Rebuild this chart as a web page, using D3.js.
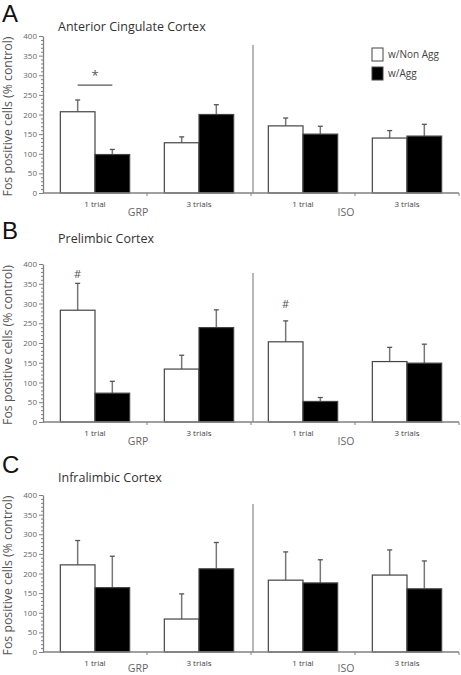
<!DOCTYPE html>
<html><head><meta charset="utf-8">
<script src="https://cdn.jsdelivr.net/npm/d3@7"></script>
<style>body{margin:0;background:#fff}svg{display:block;font-family:"Open Sans",sans-serif}</style>
</head><body><div id="chart"></div>
<script>
const conditions = ["GRP", "ISO"];
const trials = ["1 trial", "3 trials"];
const groups = ["GRP 1 trial", "GRP 3 trials", "ISO 1 trial", "ISO 3 trials"];
const series = ["w/Non Agg", "w/Agg"];
const yTicks = [0, 50, 100, 150, 200, 250, 300, 350, 400];
const panelLetters = ["A", "B", "C"];
const panelTitles = ["Anterior Cingulate Cortex", "Prelimbic Cortex", "Infralimbic Cortex"];

const acNonAgg = [207, 128, 171, 140];
const acNonAggErr = [30, 15, 20, 19];
const acAgg = [98, 200, 150, 145];
const acAggErr = [13, 25, 20, 30];

const plNonAgg = [283, 134, 203, 153];
const plNonAggErr = [68, 35, 53, 36];
const plAgg = [73, 239, 52, 149];
const plAggErr = [30, 45, 10, 48];

const ilNonAgg = [222, 84, 183, 196];
const ilNonAggErr = [62, 64, 72, 64];
const ilAgg = [164, 212, 176, 161];
const ilAggErr = [80, 67, 59, 71];

const W = 461, H = 675;
const svg = d3.select("#chart").append("svg").attr("width", W).attr("height", H);

const panels = [
  {vals: [acNonAgg, acAgg], errs: [acNonAggErr, acAggErr], y0: 193, y1: 36},
  {vals: [plNonAgg, plAgg], errs: [plNonAggErr, plAggErr], y0: 422, y1: 264},
  {vals: [ilNonAgg, ilAgg], errs: [ilNonAggErr, ilAggErr], y0: 652, y1: 495}
];
const letterY = [22, 239, 473];
const titleY = [31, 243, 482];
const condLabelOffset = [23, 23, 20];

const x = d3.scaleBand().domain(groups).range([43, 459]).paddingInner(1/3).paddingOuter(1/6);
const xs = d3.scaleBand().domain(series).range([0, x.bandwidth()]);
const fills = ["#fff", "#000"];
const axisColor = "#808080";

panels.forEach((p, pi) => {
  const g = svg.append("g");
  const y = d3.scaleLinear().domain([0, 400]).range([p.y0, p.y1]);

  g.append("text").attr("x", 2).attr("y", letterY[pi]).attr("font-size", 24)
    .attr("font-family", "Liberation Sans, Arial, sans-serif")
    .attr("fill", "#111").text(panelLetters[pi]);
  g.append("text").attr("x", 58).attr("y", titleY[pi]).attr("font-size", 12.5)
    .attr("fill", "#333").text(panelTitles[pi]);

  // minor ticks
  const minor = d3.range(0, 401, 10).filter(v => v % 50 !== 0);
  g.append("g").attr("transform", `translate(43,0)`)
    .call(d3.axisLeft(y).tickValues(minor).tickSize(2).tickFormat(""))
    .call(a => a.select(".domain").remove())
    .call(a => a.selectAll("line").attr("stroke", axisColor));
  const ya = g.append("g").attr("transform", `translate(43,0)`)
    .call(d3.axisLeft(y).tickValues(yTicks).tickSize(4).tickPadding(2).tickSizeOuter(0));
  ya.select(".domain").attr("stroke", axisColor).attr("stroke-width", 1.3);
  ya.selectAll("line").attr("stroke", axisColor);
  ya.selectAll("text").attr("font-size", 8).attr("fill", "#666").attr("font-family", "Open Sans");

  // y label
  g.append("text").attr("transform", `translate(12,${(p.y0 + p.y1) / 2 + 2}) rotate(-90)`)
    .attr("text-anchor", "middle").attr("font-size", 12.3).attr("fill", "#555")
    .text("Fos positive cells (% control)");

  // bars
  groups.forEach((gr, gi) => {
    series.forEach((s, si) => {
      const v = p.vals[si][gi], e = p.errs[si][gi];
      const bx = x(gr) + xs(s);
      const cx = bx + xs.bandwidth() / 2;
      g.append("line").attr("x1", cx).attr("x2", cx).attr("y1", y(v)).attr("y2", y(v + e))
        .attr("stroke", "#777").attr("stroke-width", 1.5);
      g.append("line").attr("x1", cx - 2.5).attr("x2", cx + 2.5).attr("y1", y(v + e)).attr("y2", y(v + e))
        .attr("stroke", "#555").attr("stroke-width", 1.3);
      g.append("rect").attr("x", bx).attr("y", y(v)).attr("width", xs.bandwidth())
        .attr("height", y(0) - y(v)).attr("fill", fills[si]).attr("stroke", "#444").attr("stroke-width", 1.2);
    });
  });

  // x axis
  const xStart = x.range()[0];
  g.append("line").attr("x1", xStart).attr("x2", x.range()[1]).attr("y1", p.y0).attr("y2", p.y0)
    .attr("stroke", axisColor).attr("stroke-width", 1.3);
  const bounds = groups.map((gr, i) => x(gr) - x.step() * x.paddingOuter() + x.step());
  bounds.forEach(b => g.append("line").attr("x1", b).attr("x2", b).attr("y1", p.y0).attr("y2", p.y0 + 3)
    .attr("stroke", axisColor));
  groups.forEach((gr, gi) => {
    g.append("text").attr("x", x(gr) + x.bandwidth() / 2).attr("y", p.y0 + 14)
      .attr("text-anchor", "middle").attr("font-size", 8).attr("fill", "#444")
      .text(trials[gi % 2]);
  });
  conditions.forEach((c, ci) => {
    g.append("text").attr("x", bounds[ci * 2] - 9).attr("y", p.y0 + condLabelOffset[pi])
      .attr("text-anchor", "middle").attr("font-size", 10.5).attr("fill", "#666").text(c);
  });
  // divider
  g.append("line").attr("x1", bounds[1] + 2).attr("x2", bounds[1] + 2).attr("y1", y(377)).attr("y2", p.y0)
    .attr("stroke", "#888").attr("stroke-width", 1.2);
});

// legend (panel A)
series.forEach((s, si) => {
  svg.append("rect").attr("x", 372).attr("y", 48 + si * 19).attr("width", 11).attr("height", 13)
    .attr("fill", fills[si]).attr("stroke", "#444").attr("stroke-width", 1);
  svg.append("text").attr("x", 388).attr("y", 58 + si * 19).attr("font-size", 10).attr("fill", "#444").text(s);
});

// significance marks
const yA = d3.scaleLinear().domain([0, 400]).range([panels[0].y0, panels[0].y1]);
const yB = d3.scaleLinear().domain([0, 400]).range([panels[1].y0, panels[1].y1]);
const c0 = x(groups[0]) + x.bandwidth() / 2;
svg.append("line").attr("x1", x(groups[0]) + xs.bandwidth() / 2).attr("x2", x(groups[0]) + xs.bandwidth() * 1.5)
  .attr("y1", yA(275)).attr("y2", yA(275)).attr("stroke", "#555").attr("stroke-width", 1.2);
svg.append("text").attr("x", c0).attr("y", yA(300) + 5).attr("text-anchor", "middle")
  .attr("font-size", 13).attr("fill", "#555").text("*");
svg.append("text").attr("x", x(groups[0]) + xs.bandwidth() / 2).attr("y", yB(375) + 4).attr("text-anchor", "middle")
  .attr("font-size", 11).attr("fill", "#555").text("#");
svg.append("text").attr("x", x(groups[2]) + xs.bandwidth() / 2).attr("y", yB(300) + 4).attr("text-anchor", "middle")
  .attr("font-size", 11).attr("fill", "#555").text("#");
</script></body></html>
